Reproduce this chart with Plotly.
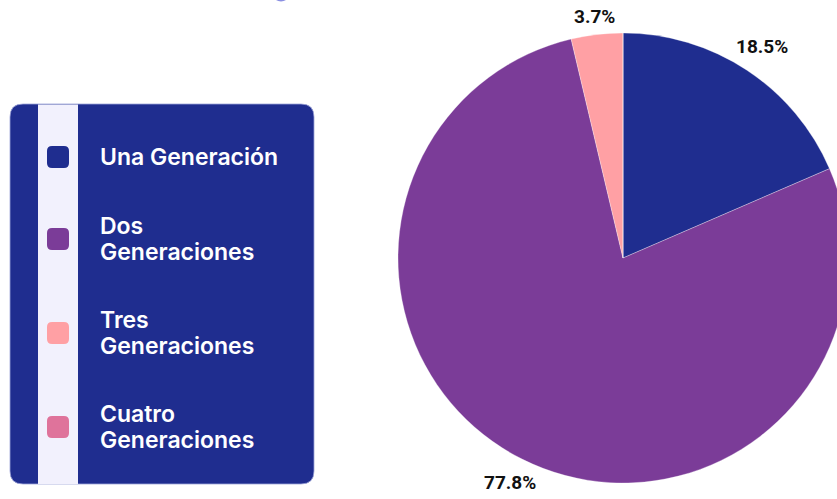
import math
import plotly.graph_objects as go

# Generational make-up of households
categories = ["Una Generación", "Dos Generaciones", "Tres Generaciones", "Cuatro Generaciones"]
legend_labels = ["Una Generación", "Dos<br>Generaciones", "Tres<br>Generaciones", "Cuatro<br>Generaciones"]
shares = [18.5, 77.8, 3.7, 0.0]
colors = ["#1f2d8f", "#7b3c98", "#ffa0a4", "#df739b"]

W, H = 860, 499
NAVY = "#1f2d8f"

# pie geometry (pixels)
CX, CY, R = 623, 258, 225


def px(x):
    return x / W


def py(y):
    return 1 - y / H


def rounded_rect(x0, y0, x1, y1, r):
    """SVG path (paper coords) for a rectangle with rounded corners, given in pixels."""
    pts = [
        f"M {px(x0 + r)},{py(y0)}",
        f"L {px(x1 - r)},{py(y0)}",
        f"Q {px(x1)},{py(y0)} {px(x1)},{py(y0 + r)}",
        f"L {px(x1)},{py(y1 - r)}",
        f"Q {px(x1)},{py(y1)} {px(x1 - r)},{py(y1)}",
        f"L {px(x0 + r)},{py(y1)}",
        f"Q {px(x0)},{py(y1)} {px(x0)},{py(y1 - r)}",
        f"L {px(x0)},{py(y0 + r)}",
        f"Q {px(x0)},{py(y0)} {px(x0 + r)},{py(y0)}",
        "Z",
    ]
    return " ".join(pts)


fig = go.Figure(
    go.Pie(
        labels=categories,
        values=shares,
        textinfo="none",
        marker=dict(colors=colors, line=dict(color="rgba(255,255,255,0.5)", width=0.6)),
        sort=False,
        direction="clockwise",
        rotation=0,
        showlegend=False,
        hoverinfo="label+percent",
        domain=dict(x=[px(CX - R), px(CX + R)], y=[py(CY + R), py(CY - R)]),
    )
)

annotations = []

# percentage labels just outside each slice, along its mid angle
PCT_SIZE = 19
total = sum(shares)
cum = 0.0
for v in shares:
    mid = (cum + v / 2) / total * 2 * math.pi
    cum += v
    if v <= 0:
        continue
    txt = f"{v:.1f}%"
    hw = 0.27 * PCT_SIZE * len(txt)
    hh = 10
    s, c = math.sin(mid), -math.cos(mid)
    d = R + 6 + hw * abs(s) + hh * abs(c)
    annotations.append(dict(text=txt, xref="paper", yref="paper",
                            x=px(CX + d * s), y=py(CY + d * c),
                            xanchor="center", yanchor="middle", showarrow=False,
                            font=dict(family="Roboto", size=PCT_SIZE, color="#111111", weight="bold")))

shapes = []
# small accent dot peeking in at the top
shapes.append(dict(type="circle", xref="paper", yref="paper",
                   x0=px(272), x1=px(290), y0=py(1.5), y1=py(-16.5),
                   fillcolor="#8a8fe2", line=dict(width=0), layer="above"))
# legend panel
shapes.append(dict(type="path", xref="paper", yref="paper",
                   path=rounded_rect(10, 104, 314, 484, 13),
                   fillcolor=NAVY, line=dict(color="#9da3d8", width=0.8), layer="below"))
# light strip behind the swatches
shapes.append(dict(type="rect", xref="paper", yref="paper",
                   x0=px(38), x1=px(78), y0=py(484), y1=py(104.5),
                   fillcolor="#f2f1fd", line=dict(width=0), layer="below"))

row_centers = [157, 239, 333, 427]
LINE_GAP = 26
for lab, col, yc in zip(legend_labels, colors, row_centers):
    shapes.append(dict(type="path", xref="paper", yref="paper",
                       path=rounded_rect(47, yc - 11, 69, yc + 11, 5),
                       fillcolor=col, line=dict(width=0), layer="above"))
    lines = lab.split("<br>")
    top = yc - LINE_GAP * (len(lines) - 1) / 2
    for i, ln in enumerate(lines):
        annotations.append(dict(text=ln, xref="paper", yref="paper",
                                x=px(98), y=py(top + i * LINE_GAP), xanchor="left", yanchor="middle",
                                align="left", showarrow=False,
                                font=dict(family="Inter", size=23, color="white", weight=600)))

fig.update_layout(
    width=W, height=H,
    margin=dict(l=0, r=0, t=0, b=0),
    paper_bgcolor="white",
    plot_bgcolor="white",
    shapes=shapes,
    annotations=annotations,
)

fig.write_html("out.html")
